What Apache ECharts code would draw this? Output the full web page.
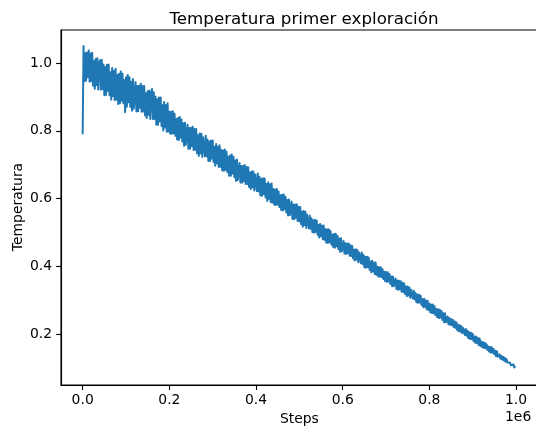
<!DOCTYPE html>
<html>
<head>
<meta charset="utf-8">
<script src="https://cdn.jsdelivr.net/npm/echarts@6/dist/echarts.min.js"></script>
<style>
  html, body { margin: 0; padding: 0; background: #ffffff; }
  #chart { width: 536px; height: 427px; }
</style>
</head>
<body>
<div id="chart"></div>
<script>
// Temperature recorded during the first exploration run, one sample every 2000 steps
const stepSize = 2000;
const temperatura = [
  // 0 – 38k
  0.790, 1.050, 0.946, 1.029, 0.948, 1.031, 0.959, 1.037, 0.945, 1.028,
  0.947, 1.030, 0.933, 1.006, 0.924, 1.012, 0.935, 1.014, 0.922, 1.000,
  // 40k – 78k
  1.008, 0.921, 1.010, 0.923, 0.996, 0.905, 0.988, 0.906, 0.995, 0.918,
  0.996, 0.905, 0.973, 0.892, 0.985, 0.903, 0.977, 0.890, 0.983, 0.892,
  // 80k – 118k
  0.965, 0.879, 0.968, 0.881, 0.975, 0.889, 0.968, 0.881, 0.950, 0.855,
  0.958, 0.871, 0.965, 0.884, 0.958, 0.871, 0.945, 0.859, 0.953, 0.866,
  // 120k – 158k
  0.869, 0.944, 0.857, 0.932, 0.858, 0.933, 0.868, 0.939, 0.856, 0.932,
  0.857, 0.932, 0.845, 0.911, 0.838, 0.917, 0.847, 0.919, 0.835, 0.907,
  // 160k – 198k
  0.923, 0.835, 0.914, 0.835, 0.901, 0.818, 0.893, 0.818, 0.898, 0.828,
  0.898, 0.814, 0.875, 0.801, 0.885, 0.810, 0.876, 0.797, 0.881, 0.798,
  // 200k – 238k
  0.856, 0.791, 0.856, 0.791, 0.858, 0.793, 0.850, 0.785, 0.835, 0.774,
  0.838, 0.773, 0.841, 0.780, 0.833, 0.768, 0.822, 0.756, 0.824, 0.759,
  // 240k – 278k
  0.757, 0.818, 0.747, 0.808, 0.747, 0.809, 0.755, 0.812, 0.743, 0.805,
  0.744, 0.805, 0.734, 0.787, 0.726, 0.792, 0.734, 0.791, 0.723, 0.781,
  // 280k – 318k
  0.785, 0.725, 0.785, 0.725, 0.774, 0.711, 0.768, 0.711, 0.771, 0.718,
  0.771, 0.708, 0.753, 0.697, 0.761, 0.704, 0.753, 0.693, 0.757, 0.694,
  // 320k – 358k
  0.743, 0.683, 0.742, 0.682, 0.745, 0.685, 0.738, 0.678, 0.723, 0.667,
  0.727, 0.667, 0.730, 0.674, 0.723, 0.663, 0.712, 0.652, 0.715, 0.655,
  // 360k – 398k
  0.656, 0.705, 0.647, 0.696, 0.647, 0.696, 0.652, 0.699, 0.643, 0.693,
  0.643, 0.692, 0.634, 0.677, 0.628, 0.680, 0.633, 0.680, 0.624, 0.671,
  // 400k – 438k
  0.675, 0.622, 0.674, 0.621, 0.664, 0.609, 0.658, 0.608, 0.660, 0.613,
  0.659, 0.603, 0.643, 0.593, 0.648, 0.599, 0.642, 0.589, 0.644, 0.588,
  // 440k – 478k
  0.628, 0.582, 0.627, 0.581, 0.628, 0.582, 0.621, 0.575, 0.610, 0.566,
  0.611, 0.565, 0.612, 0.568, 0.605, 0.559, 0.596, 0.550, 0.597, 0.551,
  // 480k – 518k
  0.549, 0.591, 0.540, 0.582, 0.539, 0.582, 0.543, 0.583, 0.534, 0.576,
  0.533, 0.575, 0.524, 0.561, 0.517, 0.563, 0.522, 0.561, 0.513, 0.552,
  // 520k – 558k
  0.552, 0.512, 0.550, 0.511, 0.542, 0.501, 0.536, 0.499, 0.537, 0.502,
  0.535, 0.493, 0.522, 0.485, 0.525, 0.489, 0.520, 0.480, 0.520, 0.478,
  // 560k – 598k
  0.509, 0.470, 0.509, 0.469, 0.509, 0.471, 0.504, 0.464, 0.493, 0.457,
  0.495, 0.455, 0.496, 0.459, 0.490, 0.451, 0.482, 0.443, 0.483, 0.444,
  // 600k – 638k
  0.445, 0.475, 0.438, 0.468, 0.436, 0.467, 0.439, 0.467, 0.431, 0.462,
  0.430, 0.460, 0.423, 0.449, 0.417, 0.450, 0.420, 0.448, 0.412, 0.441,
  // 640k – 678k
  0.443, 0.409, 0.441, 0.407, 0.433, 0.397, 0.428, 0.396, 0.428, 0.398,
  0.426, 0.390, 0.414, 0.382, 0.416, 0.385, 0.411, 0.377, 0.411, 0.375,
  // 680k – 718k
  0.399, 0.370, 0.397, 0.369, 0.397, 0.368, 0.391, 0.362, 0.384, 0.356,
  0.383, 0.354, 0.382, 0.355, 0.377, 0.348, 0.370, 0.341, 0.370, 0.341,
  // 720k – 758k
  0.339, 0.364, 0.333, 0.358, 0.331, 0.357, 0.332, 0.356, 0.325, 0.351,
  0.324, 0.349, 0.318, 0.340, 0.312, 0.340, 0.314, 0.337, 0.307, 0.331,
  // 760k – 798k
  0.331, 0.305, 0.328, 0.302, 0.321, 0.294, 0.317, 0.292, 0.316, 0.293,
  0.313, 0.286, 0.303, 0.279, 0.304, 0.280, 0.299, 0.273, 0.298, 0.271,
  // 800k – 838k
  0.290, 0.264, 0.287, 0.262, 0.287, 0.261, 0.282, 0.256, 0.274, 0.250,
  0.273, 0.247, 0.272, 0.249, 0.268, 0.242, 0.261, 0.235, 0.261, 0.235,
  // 840k – 878k
  0.235, 0.252, 0.229, 0.247, 0.227, 0.244, 0.226, 0.242, 0.221, 0.238,
  0.218, 0.235, 0.212, 0.228, 0.208, 0.226, 0.207, 0.223, 0.202, 0.218,
  // 880k – 918k
  0.218, 0.197, 0.215, 0.195, 0.210, 0.188, 0.205, 0.185, 0.204, 0.185,
  0.201, 0.179, 0.193, 0.174, 0.193, 0.173, 0.188, 0.167, 0.187, 0.165,
  // 920k – 958k
  0.178, 0.161, 0.176, 0.159, 0.174, 0.158, 0.170, 0.153, 0.163, 0.148,
  0.162, 0.145, 0.161, 0.145, 0.156, 0.140, 0.151, 0.134, 0.149, 0.133,
  // 960k – 1000k
  0.132, 0.140, 0.127, 0.136, 0.125, 0.133, 0.122, 0.130, 0.118, 0.126,
  0.116, 0.121, 0.111, 0.116, 0.108, 0.113, 0.105, 0.110, 0.101, 0.106,
  0.099
];
const xTicks = [0, 200000, 400000, 600000, 800000, 1000000];
const yTicks = [0.2, 0.4, 0.6, 0.8, 1.0];

const points = temperatura.map((t, i) => [i * stepSize, t]);

const FONT = 'DejaVu Sans';
const chart = echarts.init(document.getElementById('chart'), null, { renderer: 'canvas' });

chart.setOption({
  animation: false,
  backgroundColor: '#ffffff',
  title: {
    text: 'Temperatura primer exploración',
    left: 299, top: 6, textAlign: 'center',
    textStyle: { fontFamily: FONT, fontSize: 16.7, fontWeight: 'normal', color: '#000' }
  },
  grid: {
    left: 61, top: 30, width: 476.7, height: 355,
    outerBoundsMode: 'none',
    show: true, borderColor: '#000', borderWidth: 1.1, backgroundColor: 'transparent'
  },
  xAxis: {
    type: 'value',
    min: -50000, max: 1050000,
    name: 'Steps', nameLocation: 'middle', nameGap: 26,
    nameTextStyle: { fontFamily: FONT, fontSize: 13.9, color: '#000' },
    axisLine: { show: true, onZero: false, lineStyle: { color: '#000', width: 1.1 } },
    axisTick: { show: true, length: 4.9, customValues: xTicks, lineStyle: { color: '#000', width: 1.1 } },
    axisLabel: {
      customValues: xTicks, margin: 8,
      fontFamily: FONT, fontSize: 13.9, color: '#000',
      formatter: v => (v / 1e6).toFixed(1)
    },
    splitLine: { show: false }
  },
  yAxis: {
    type: 'value',
    min: 0.0495, max: 1.0975,
    axisLine: { show: true, onZero: false, lineStyle: { color: '#000', width: 1.1 } },
    axisTick: { show: true, length: 4.9, customValues: yTicks, lineStyle: { color: '#000', width: 1.1 } },
    axisLabel: {
      customValues: yTicks, margin: 9,
      fontFamily: FONT, fontSize: 13.9, color: '#000',
      formatter: v => v.toFixed(1)
    },
    splitLine: { show: false }
  },
  graphic: [
    {
      // y-axis title, rotated
      type: 'text', x: 18, y: 207, rotation: Math.PI / 2,
      style: { text: 'Temperatura', font: '13.9px "DejaVu Sans"', fill: '#000', align: 'center', verticalAlign: 'middle' }
    },
    {
      // scale factor of the step axis
      type: 'text', left: 505, top: 410,
      style: { text: '1e6', font: '13.9px "DejaVu Sans"', fill: '#000' }
    }
  ],
  series: [{
    type: 'line',
    data: points,
    showSymbol: false,
    symbol: 'none',
    lineStyle: { color: '#1f77b4', width: 2, join: 'round' },
    clip: true
  }]
});
</script>
</body>
</html>
